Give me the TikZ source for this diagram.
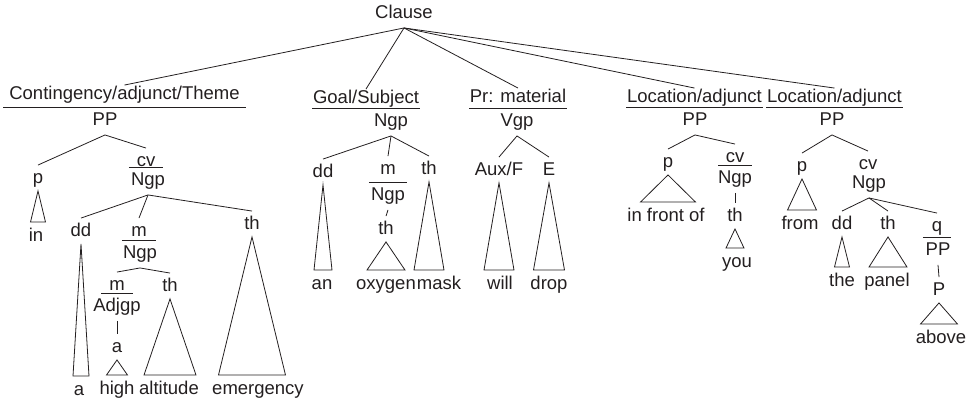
\documentclass[tikz,border=0pt]{standalone}
\usepackage{fontspec}
\setmainfont{Liberation Sans}
\usepackage{tikz}
\usetikzlibrary{calc}
\definecolor{inkTree}{RGB}{35,31,32}
\tikzset{
  treeNode/.style={
    font=\fontsize{18.5}{22}\selectfont,
    text=inkTree,
    text height=13.5pt,
    text depth=4pt,
    inner xsep=1pt,
    inner ysep=5pt
  },
  fnLabel/.style={treeNode, inner xsep=0.5pt, inner ysep=1pt},
  fnSmall/.style={treeNode, minimum width=34pt},
  wordNode/.style={treeNode},
  treeEdge/.style={draw=inkTree, line width=0.8pt}
}
\newcommand{\roof}[3]{%
  \draw[treeEdge] ([yshift=2pt]#1.south) -- ([xshift=-#3pt,yshift=1pt]#1.south |- #2.north)
    -- ([xshift=#3pt,yshift=1pt]#1.south |- #2.north) -- cycle;}
\newcommand{\fnrule}[2]{%
  \draw[treeEdge] (#1.west |- #2.north) -- (#1.east |- #2.north);}

\begin{document}
\begin{tikzpicture}[x=1pt, y=-1pt]
  \useasboundingbox (0,0) rectangle (975,402);

  \node[treeNode] (clause) at (404,14) {Clause};

  \node[fnLabel, inner xsep=6pt] (cont) at (124.5,95) {Contingency/adjunct/Theme};
  \node[treeNode] (ppA) at (105,121) {PP};
  \node[treeNode] (pA) at (38,179) {p};
  \node[fnSmall] (cvA) at (146,162) {cv};
  \node[treeNode] (ngpA) at (148,181) {Ngp};
  \node[wordNode] (inA) at (36,237) {in};
  \node[treeNode] (ddA) at (81,232) {dd};
  \node[fnSmall] (mA) at (139,232) {m};
  \node[treeNode] (ngpB) at (140,254) {Ngp};
  \node[treeNode] (thA) at (252,225) {th};
  \node[fnSmall, minimum width=31pt] (mB) at (117,286) {m};
  \node[treeNode] (adjgp) at (117,307) {Adjgp};
  \node[treeNode] (aA) at (117,348) {a};
  \node[treeNode] (thB) at (170,287) {th};
  \node[wordNode] (aWord) at (79,391) {a};
  \node[wordNode] (high) at (117,390) {high};
  \node[wordNode] (altitude) at (169,390) {altitude};
  \node[wordNode] (emergency) at (258,390) {emergency};

  \node[fnLabel] (goal) at (366,99) {Goal/Subject};
  \node[treeNode] (ngpC) at (391,122) {Ngp};
  \node[treeNode] (ddB) at (323,173) {dd};
  \node[fnSmall, minimum width=38pt] (mC) at (388,170) {m};
  \node[treeNode] (ngpD) at (388,196) {Ngp};
  \node[treeNode] (thC) at (386,230) {th};
  \node[treeNode] (thD) at (429,170) {th};
  \node[wordNode] (an) at (322,285) {an};
  \node[wordNode] (oxygen) at (386,285) {oxygen};
  \node[wordNode] (mask) at (439,285) {mask};

  \node[fnLabel] (pr) at (518,98) {Pr: material};
  \node[treeNode] (vgp) at (517,122) {Vgp};
  \node[treeNode] (auxF) at (499,171) {Aux/F};
  \node[treeNode] (eB) at (549,171) {E};
  \node[wordNode] (will) at (500,285) {will};
  \node[wordNode] (drop) at (549,285) {drop};

  \node[fnLabel] (locA) at (694.5,98) {Location/adjunct};
  \node[treeNode] (ppB) at (695,121) {PP};
  \node[treeNode] (pB) at (668,163) {p};
  \node[fnSmall, minimum width=33pt] (cvB) at (735,158) {cv};
  \node[treeNode] (ngpE) at (735,179) {Ngp};
  \node[treeNode] (thE) at (735,217) {th};
  \node[wordNode] (inFront) at (666,217) {in front of};
  \node[wordNode] (you) at (737,263) {you};

  \node[fnLabel] (locB) at (834.5,98) {Location/adjunct};
  \node[treeNode] (ppC) at (832,121) {PP};
  \node[treeNode] (pC) at (802,167) {p};
  \node[treeNode] (cvC) at (868,165) {cv};
  \node[treeNode] (ngpF) at (869,184) {Ngp};
  \node[treeNode] (ddC) at (842,225) {dd};
  \node[treeNode] (thF) at (888,225) {th};
  \node[fnSmall, minimum width=28pt] (qA) at (937,227) {q};
  \node[treeNode] (ppD) at (938,251) {PP};
  \node[treeNode] (pD) at (939,291) {P};
  \node[wordNode] (from) at (800,225) {from};
  \node[wordNode] (the) at (842,282) {the};
  \node[wordNode] (panel) at (887,282) {panel};
  \node[wordNode] (above) at (941,339) {above};

  \foreach \fn in {cont, goal, pr, locA, locB}
    \draw[treeEdge] (clause.south) -- (\fn.north);

  \fnrule{cont}{ppA}
  \fnrule{goal}{ngpC}
  \fnrule{pr}{vgp}
  \fnrule{locA}{ppB}
  \fnrule{locB}{ppC}
  \fnrule{cvA}{ngpA}
  \fnrule{mA}{ngpB}
  \fnrule{mB}{adjgp}
  \fnrule{mC}{ngpD}
  \fnrule{cvB}{ngpE}
  \fnrule{qA}{ppD}

  \draw[treeEdge] (ppA.south) -- (pA.north);
  \draw[treeEdge] (ppA.south) -- (cvA.north);
  \draw[treeEdge] (ngpA.south) -- (ddA.north);
  \draw[treeEdge] (ngpA.south) -- (mA.north);
  \draw[treeEdge] (ngpA.south) -- (thA.north);
  \draw[treeEdge] (ngpB.south) -- (mB.north);
  \draw[treeEdge] (ngpB.south) -- (thB.north);
  \draw[treeEdge] (adjgp.south) -- (aA.north);
  \roof{pA}{inA}{7.5}
  \roof{ddA}{aWord}{8}
  \roof{aA}{high}{10.5}
  \roof{thB}{altitude}{26}
  \roof{thA}{emergency}{33.5}

  \draw[treeEdge] (ngpC.south) -- (ddB.north);
  \draw[treeEdge] (ngpC.south) -- (mC.north);
  \draw[treeEdge] (ngpC.south) -- (thD.north);
  \draw[treeEdge] (ngpD.south) -- (thC.north);
  \roof{ddB}{an}{9}
  \roof{thC}{oxygen}{19}
  \roof{thD}{mask}{15}

  \draw[treeEdge] (vgp.south) -- (auxF.north);
  \draw[treeEdge] (vgp.south) -- (eB.north);
  \roof{auxF}{will}{15}
  \roof{eB}{drop}{15.5}

  \draw[treeEdge] (ppB.south) -- (pB.north);
  \draw[treeEdge] (ppB.south) -- (cvB.north);
  \draw[treeEdge] (ngpE.south) -- (thE.north);
  \roof{pB}{inFront}{27.5}
  \roof{thE}{you}{9}

  \draw[treeEdge] (ppC.south) -- (pC.north);
  \draw[treeEdge] (ppC.south) -- (cvC.north);
  \draw[treeEdge] (ngpF.south) -- (ddC.north);
  \draw[treeEdge] (ngpF.south) -- (thF.north);
  \draw[treeEdge] (ngpF.south) -- (qA.north);
  \draw[treeEdge] (ppD.south) -- (pD.north);
  \roof{pC}{from}{14.5}
  \roof{ddC}{the}{7.5}
  \roof{thF}{panel}{19}
  \roof{pD}{above}{18.5}
\end{tikzpicture}
\end{document}
